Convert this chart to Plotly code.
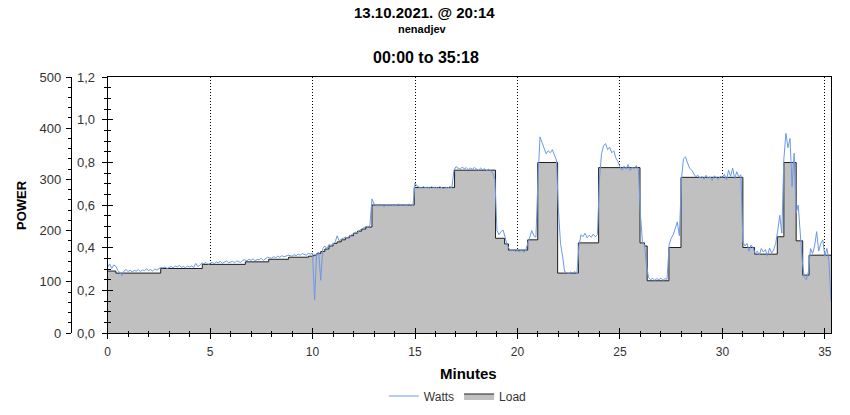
import plotly.graph_objects as go

# ---------------- data ----------------
# Load (step series): start time of each step (minutes) and level (W)
load_t = [0, 0.4, 2.59, 4.62, 6.72, 7.86, 8.83, 9.8, 10.05, 10.2, 10.4, 10.6, 10.8, 11.0,
          11.2, 11.4, 11.6, 11.8, 12.0, 12.2, 12.4, 12.6, 12.9, 14.96, 16.93, 18.93, 19.37,
          19.56, 20.5, 20.99, 21.96, 22.97, 23.96, 25.98, 26.2, 26.33, 27.39, 27.98, 31.0,
          31.57, 32.68, 33.0, 33.6, 33.92, 34.23, 35.3]
load_w = [121, 117, 126, 134, 139, 144, 148, 150, 152, 155, 159, 164, 170, 175,
          178, 182, 186, 190, 195, 199, 203, 207, 250, 284, 318, 185, 174,
          162, 182, 333, 117, 176, 323, 176, 170, 102, 167, 304, 167,
          154, 188, 333, 180, 113, 152, 152]

# Watts, sampled every 0.1 min (one row per minute)
watts_step_min = 0.1
watts = [
    128, 135, 126, 133, 130, 122, 118, 112, 121, 124,
    120, 123, 119, 122, 121, 124, 120, 123, 122, 125,
    122, 124, 121, 125, 123, 126, 128, 127, 129, 126,
    128, 130, 127, 131, 129, 132, 128, 130, 127, 131,
    129, 131, 128, 136, 130, 132, 137, 135, 138, 134,
    136, 138, 135, 139, 137, 140, 136, 138, 141, 137,
    138, 140, 137, 141, 139, 138, 142, 143, 141, 144,
    142, 145, 141, 144, 143, 146, 142, 145, 148, 147,
    146, 149, 147, 150, 148, 151, 149, 150, 152, 151,
    150, 153, 151, 154, 152, 155, 153, 152, 156, 154,
    156, 64, 155, 158, 103, 165, 170, 165, 173, 171,
    174, 177, 190, 180, 183, 185, 187, 186, 190, 192,
    194, 197, 196, 201, 203, 205, 208, 207, 211, 262,
    252, 250, 248, 251, 249, 247, 250, 248, 251, 249,
    248, 250, 252, 249, 251, 250, 248, 252, 250, 249,
    293, 287, 285, 283, 286, 284, 285, 283, 286, 284,
    285, 283, 286, 284, 282, 285, 283, 286, 284, 318,
    325, 322, 320, 324, 321, 323, 319, 322, 320, 323,
    321, 318, 322, 319, 321, 317, 320, 316, 312, 300,
    200, 192, 198, 201, 185, 172, 164, 160, 163, 159,
    161, 158, 163, 157, 162, 176, 185, 200, 190, 187,
    300, 383, 372, 360, 350, 356, 352, 358, 346, 338,
    240, 175, 150, 120, 118, 116, 119, 117, 120, 115,
    170, 192, 188, 195, 186, 191, 187, 193, 188, 192,
    300, 350, 365, 370, 358, 363, 352, 356, 342, 335,
    325, 318, 326, 320, 329, 317, 324, 321, 327, 319,
    232, 178, 172, 130, 108, 104, 107, 103, 106, 104,
    107, 103, 106, 105, 172, 185, 192, 205, 217, 190,
    300, 340, 344, 332, 322, 318, 310, 305, 308, 302,
    306, 300, 308, 302, 305, 298, 307, 303, 300, 306,
    304, 310, 299, 318, 306, 322, 301, 315, 305, 309,
    178, 170, 175, 160, 172, 166, 155, 160, 152, 165,
    158, 163, 150, 166, 156, 162, 175, 200, 230, 195,
    340, 390, 362, 380, 286, 351, 234, 250, 190, 140,
    108, 104, 120, 165, 155, 170, 198, 160, 175, 182,
    150, 165, 140, 62,
]
watts_t = [round(i * watts_step_min, 2) for i in range(len(watts))]

x_ticks = [0, 5, 10, 15, 20, 25, 30, 35]
title_lines = ["13.10.2021. @ 20:14", "nenadjev", "00:00 to 35:18"]

# ---------------- figure ----------------
W, H = 850, 415
ML, MR, MT, MB = 0, 19, 77, 82
PW = W - ML - MR          # paper width in px
PH = H - MT - MB          # paper height in px
plot_left_px = 105
outer_axis_px = 68

def px_x(p):
    return p / PW

def px_y(p):
    return (H - MB - p) / PH

FONT = "Liberation Sans, Arial, sans-serif"

fig = go.Figure()
fig.add_trace(go.Scatter(
    x=load_t, y=load_w, name="Load", mode="lines", line_shape="hv",
    line=dict(color="#1e1e1e", width=1), fill="tozeroy", fillcolor="#c0c0c0",
    yaxis="y", xaxis="x",
))
fig.add_trace(go.Scatter(
    x=watts_t, y=watts, name="Watts", mode="lines",
    line=dict(color="#6b98e6", width=1),
    yaxis="y", xaxis="x",
))
# invisible helpers so the decorative overlay axes are rendered
fig.add_trace(go.Scatter(x=[None], y=[None], yaxis="y2", xaxis="x", showlegend=False, hoverinfo="skip"))
fig.add_trace(go.Scatter(x=[None], y=[None], yaxis="y3", xaxis="x2", showlegend=False, hoverinfo="skip"))

dom = [px_x(plot_left_px), 1]
fig.update_layout(
    width=W, height=H,
    margin=dict(l=ML, r=MR, t=MT, b=MB),
    paper_bgcolor="white", plot_bgcolor="white",
    font=dict(family=FONT, size=12, color="#222"),
    showlegend=True,
    legend=dict(orientation="h", x=px_x(456), xanchor="center", y=px_y(396), yanchor="middle",
                traceorder="reversed", font=dict(size=12, color="#333"),
                itemwidth=30, bgcolor="rgba(0,0,0,0)"),
    xaxis=dict(
        domain=dom, range=[0, 35.3], tickvals=x_ticks, ticks="outside", ticklen=5,
        tickcolor="black", showline=True, linecolor="black", linewidth=1, mirror=True,
        showgrid=True, gridcolor="black", griddash="1px,2px", gridwidth=1,
        zeroline=False, tickfont=dict(size=12, color="#333"), ticklabelstandoff=3,
        minor=dict(dtick=1, ticks="outside", ticklen=3, tickcolor="black", showgrid=False),
    ),
    xaxis2=dict(
        domain=dom, range=[0, 35.3], overlaying="x", anchor="y2", tickvals=x_ticks,
        ticks="inside", ticklen=5, tickcolor="black", showticklabels=False,
        showgrid=False, zeroline=False, showline=False,
        minor=dict(dtick=1, ticks="inside", ticklen=2, tickcolor="black"),
    ),
    yaxis=dict(
        range=[0, 500], anchor="free", position=px_x(outer_axis_px), side="left",
        dtick=100, ticks="outside", ticklen=5, tickcolor="black",
        showline=True, linecolor="black", linewidth=1, showgrid=False, zeroline=False,
        tickfont=dict(size=13, color="#333"), ticklabelstandoff=2,
        minor=dict(dtick=20, ticks="outside", ticklen=3, tickcolor="black"),
    ),
    yaxis2=dict(
        range=[0, 1.2], overlaying="y", anchor="x", side="left", dtick=0.2,
        tickformat=".1f",
        ticks="outside", ticklen=5, tickcolor="black",
        showline=True, linecolor="black", linewidth=1, mirror=True,
        showgrid=False, zeroline=False, tickfont=dict(size=13, color="#333"),
        ticklabelstandoff=4,
        minor=dict(dtick=0.05, ticks="outside", ticklen=3, tickcolor="black"),
    ),
    yaxis3=dict(
        range=[0, 1.2], overlaying="y", anchor="x", side="left", dtick=0.2,
        ticks="inside", ticklen=5, tickcolor="black", showticklabels=False,
        showline=False, showgrid=False, zeroline=False,
        minor=dict(dtick=0.05, ticks="inside", ticklen=3, tickcolor="black"),
    ),
    separators=", ",
)

annots = [
    dict(text="<b>%s</b>" % title_lines[0], x=px_x(423), y=px_y(12), size=15),
    dict(text="<b>%s</b>" % title_lines[1], x=px_x(421), y=px_y(29), size=11),
    dict(text="<b>%s</b>" % title_lines[2], x=px_x(425), y=px_y(57), size=16),
    dict(text="<b>Minutes</b>", x=px_x(467), y=px_y(373), size=15),
]
for a in annots:
    fig.add_annotation(text=a["text"], x=a["x"], y=a["y"], xref="paper", yref="paper",
                       xanchor="center", yanchor="middle", showarrow=False,
                       font=dict(family=FONT, size=a["size"], color="black"))
fig.add_annotation(text="<b>POWER</b>", x=px_x(18), y=px_y(205), xref="paper", yref="paper",
                   xanchor="center", yanchor="middle", showarrow=False, textangle=-90,
                   font=dict(family=FONT, size=13, color="black"))

fig.write_html("out.html", config={"displayModeBar": False},
               post_script="document.body.style.margin='0';")
